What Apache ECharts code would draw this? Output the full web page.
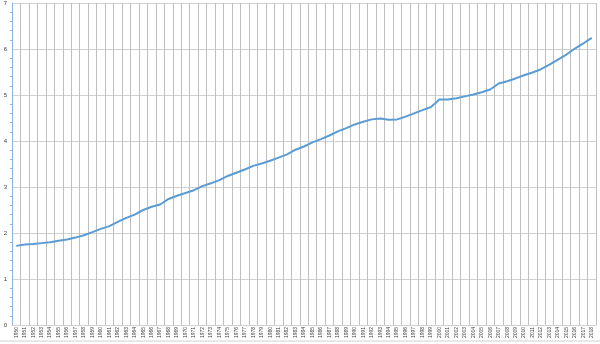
<!DOCTYPE html>
<html><head><meta charset="utf-8">
<script src="https://cdn.jsdelivr.net/npm/echarts@6/dist/echarts.min.js"></script>
<style>html,body{margin:0;padding:0;background:#fff}#c{width:600px;height:344px}</style>
</head><body><div id="c"></div>
<script>
const years = [];
for (let y = 1950; y <= 2018; y++) years.push(String(y));
const values = [
1.72,1.75,1.76,1.78,1.80,1.83,1.86,1.90,1.95,2.02,
2.09,2.15,2.24,2.33,2.40,2.50,2.57,2.62,2.74,2.81,
2.87,2.93,3.02,3.08,3.15,3.24,3.31,3.38,3.46,3.51,
3.57,3.64,3.71,3.81,3.88,3.97,4.04,4.12,4.21,4.28,
4.36,4.42,4.47,4.49,4.46,4.47,4.53,4.60,4.67,4.74,
4.90,4.90,4.93,4.97,5.01,5.06,5.12,5.25,5.30,5.36,
5.43,5.49,5.56,5.66,5.77,5.88,6.01,6.12,6.24
];
const yTicks = [0,1,2,3,4,5,6,7];
const chart = echarts.init(document.getElementById('c'), null, {renderer:'canvas'});
chart.setOption({
  animation:false,
  grid:{left:12,right:4,top:3,bottom:19,containLabel:false},
  xAxis:{type:'category',data:years,boundaryGap:true,
    axisLine:{show:true,lineStyle:{color:'#d0d0d0',width:1}},
    axisTick:{show:false},
    axisLabel:{interval:0,rotate:90,fontSize:5,color:'#404040',margin:2,fontFamily:'Liberation Sans'},
    splitLine:{show:true,interval:0,lineStyle:{color:'#bfbfbf',width:1}}},
  yAxis:{type:'value',min:yTicks[0],max:yTicks[yTicks.length-1],interval:1,
    axisLine:{show:true,lineStyle:{color:'#8db4e2',width:1}},
    axisTick:{show:false},
    minorTick:{show:true,splitNumber:5,length:2,lineStyle:{color:'#8db4e2'}},
    axisLabel:{fontSize:6,color:'#404040',margin:5,fontFamily:'Liberation Sans'},
    splitLine:{show:true,lineStyle:{color:'#d0d0d0',width:1}}},
  series:[{type:'line',data:values,showSymbol:false,symbol:'none',
    lineStyle:{color:'#5b9bd5',width:2}}],
  graphic:[{type:'line',shape:{x1:0,y1:341,x2:600,y2:341},style:{stroke:'#d0d0d0',lineWidth:1}}]
});
</script></body></html>
